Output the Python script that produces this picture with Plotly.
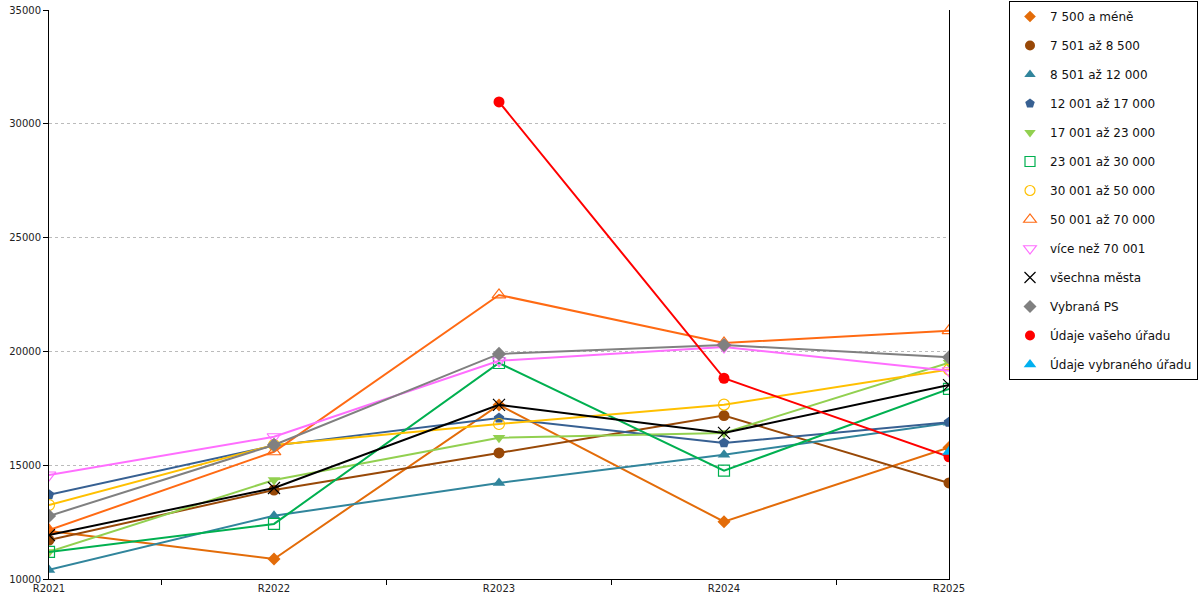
import plotly.graph_objects as go

categories = ["R2021", "R2022", "R2023", "R2024", "R2025"]

names = [
    "7 500 a méně", "7 501 až 8 500", "8 501 až 12 000", "12 001 až 17 000",
    "17 001 až 23 000", "23 001 až 30 000", "30 001 až 50 000", "50 001 až 70 000",
    "více než 70 001", "všechna města", "Vybraná PS", "Údaje vašeho úřadu",
    "Údaje vybraného úřadu",
]

s_7500 = [12110, 10880, 17650, 12520, 15780]
s_8500 = [11710, 13910, 15540, 17180, 14220]
s_12000 = [10400, 12780, 14220, 15460, 16860]
s_17000 = [13700, 15860, 17070, 15980, 16890]
s_23000 = [11190, 14350, 16210, 16420, 19500]
s_30000 = [11190, 12420, 19490, 14760, 18350]
s_50000 = [13250, 15890, 16810, 17660, 19200]
s_70000 = [12150, 15590, 22480, 20370, 20910]
s_70001 = [14570, 16250, 19590, 20190, 19150]
s_all = [11930, 14000, 17650, 16420, 18520]
s_ps = [12770, 15890, 19890, 20280, 19740]
s_vas = [None, None, 30960, 18820, 15370]
s_vyb = [None, None, None, None, 15590]

series = [s_7500, s_8500, s_12000, s_17000, s_23000, s_30000, s_50000,
          s_70000, s_70001, s_all, s_ps, s_vas, s_vyb]

colors = ["#E36C09", "#984807", "#31859C", "#376092", "#92D050", "#00B050",
          "#FFC000", "#FF6A13", "#FF6EFF", "#000000", "#808080", "#FF0000",
          "#00B0F0"]
symbols = ["diamond", "circle", "triangle-up", "pentagon", "triangle-down",
           "square-open", "circle-open", "triangle-up-open", "triangle-down-open",
           "x-thin-open", "diamond", "circle", "triangle-up"]
sizes = [10, 11, 11, 11, 11, 11, 11, 12, 12, 12, 11, 11, 12]

fig = go.Figure()
for i, (n, ys) in enumerate(zip(names, series)):
    mline = dict(width=1.2, color=colors[i]) if ("open" in symbols[i]) else dict(width=0)
    fig.add_trace(go.Scatter(
        x=categories, y=ys, name=n, mode="lines+markers",
        line=dict(color=colors[i], width=2),
        marker=dict(symbol=symbols[i], size=sizes[i], color=colors[i], line=mline),
        legendgroup="g%d" % i, showlegend=False,
    ))

# legend entries: markers only
for i, n in enumerate(names):
    mline = dict(width=1.2, color=colors[i]) if ("open" in symbols[i]) else dict(width=0)
    fig.add_trace(go.Scatter(
        x=[None], y=[None], name=n, mode="markers",
        marker=dict(symbol=symbols[i], size=sizes[i] - 1, color=colors[i], line=mline),
        legendgroup="g%d" % i, showlegend=True,
    ))

fig.update_layout(
    width=1200, height=600,
    margin=dict(l=49, r=251, t=10, b=21, autoexpand=False),
    paper_bgcolor="white", plot_bgcolor="white",
    font=dict(family="DejaVu Sans", size=12, color="#222"),
    showlegend=True,
    legend=dict(
        xref="container", yref="container",
        x=1009 / 1200, y=1 - 1 / 600, xanchor="left", yanchor="top",
        bordercolor="black", borderwidth=1,
        font=dict(size=12, color="#111"),
        traceorder="grouped", tracegroupgap=10,
        itemwidth=30, maxheight=600,
    ),
    xaxis=dict(
        type="category", range=[0, 4], showgrid=False, automargin=False,
        showline=True, linecolor="black", linewidth=1,
        ticks="outside", tickson="boundaries", ticklen=5, tickcolor="black",
        tickfont=dict(size=10, color="#222"),
        zeroline=False,
    ),
    yaxis=dict(
        range=[10000, 35000], dtick=5000, tick0=10000, tickformat="d",
        automargin=False,
        showline=True, linecolor="black", linewidth=1, mirror=True,
        ticks="outside", ticklen=5, tickcolor="black",
        showgrid=True, gridcolor="#BBBBBB", griddash="dot", gridwidth=1,
        tickfont=dict(size=10, color="#222"),
        zeroline=False,
    ),
)

fig.write_html("out.html", config={"displayModeBar": False},
               post_script="document.body.style.margin='0';")
